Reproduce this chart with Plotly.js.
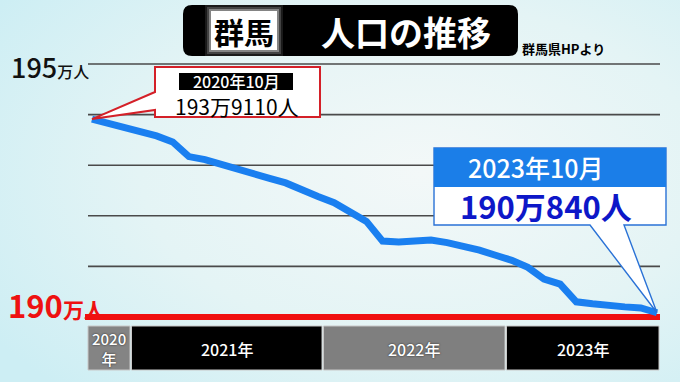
<!DOCTYPE html>
<html>
<head>
<meta charset="utf-8">
<script src="https://cdn.plot.ly/plotly-3.0.1.min.js"></script>
<style>
  html,body{margin:0;padding:0;}
  body{width:680px;height:382px;overflow:hidden;
    background: radial-gradient(ellipse 75% 80% at 62% 45%, #f3f8f8 0%, #e4f4f5 55%, #cdeef4 100%);}
  #chart{width:680px;height:382px;}
</style>
</head>
<body>
<div id="chart"></div>
<script>
// ---------------- data ----------------
const monthIndex = [0,1,2,3,4,5,6,7,8,9,10,11,12,13,14,15,16,17,18,19,20,21,22,23,24,25,26,27,28,29,30,31,32,33,34,35];
const population = [193.911,193.83,193.76,193.68,193.58,193.46,193.17,193.11,193.01,192.91,192.83,192.74,
  192.65,192.50,192.38,192.26,192.09,191.89,191.50,191.48,191.50,191.52,191.47,191.40,
  191.32,191.22,191.12,190.98,190.75,190.65,190.30,190.26,190.22,190.20,190.18,190.084];
const gridValues = [195,194,193,192,191];
const baseValue = 190;
const topTickLabel = ['195','万人'];
const baseTickLabel = ['190','万人'];
const yearLabels = ['2020<br>年','2021年','2022年','2023年'];
const titleRegion = '群馬';
const titleText = '人口の推移';
const sourceText = '群馬県HPより';
const startLabel = '2020年10月';
const startValueText = '193万9110人';
const endLabel = '2023年10月';
const endValueText = '190万840人';

// ---------------- layout helpers ----------------
const W = 680, H = 382;
const X0PX = 92, SPX = 16.143;      // pixel of first point, px per month
const BASEPX = 317, PXU = 50.6;     // pixel of 190, px per 万人
const xpx = i => X0PX + i * SPX;
const ypx = v => BASEPX - (v - baseValue) * PXU;
const xr = [-X0PX / SPX, (W - X0PX) / SPX];
const yr = [baseValue - (H - BASEPX) / PXU, baseValue + BASEPX / PXU];
const fx = x => x / W;
const fy = y => 1 - y / H;
const P = (x, y) => fx(x).toFixed(5) + ',' + fy(y).toFixed(5);
function rrect(x0, y0, x1, y1, r) {
  return `M${P(x0 + r, y0)} L${P(x1 - r, y0)} Q${P(x1, y0)} ${P(x1, y0 + r)} L${P(x1, y1 - r)} Q${P(x1, y1)} ${P(x1 - r, y1)} L${P(x0 + r, y1)} Q${P(x0, y1)} ${P(x0, y1 - r)} L${P(x0, y0 + r)} Q${P(x0, y0)} ${P(x0 + r, y0)} Z`;
}
const FONT = '"Noto Sans CJK JP", "Noto Sans", sans-serif';

const shapes = [];
const annotations = [];

// gridlines
gridValues.forEach(v => {
  shapes.push({type: 'line', xref: 'paper', yref: 'y', x0: fx(88), x1: fx(660), y0: v, y1: v,
    line: {color: '#4a4a4a', width: 1.6}, layer: 'below'});
});
// base red line
shapes.push({type: 'line', xref: 'paper', yref: 'y', x0: fx(85), x1: fx(660), y0: baseValue, y1: baseValue,
  line: {color: '#f01010', width: 6}, layer: 'below'});

// year bar
const yearPx = [[88, 130], [131.5, 322], [323.5, 505], [506.5, 659]];
const yearFill = ['#848484', '#000000', '#7f7f7f', '#000000'];
yearPx.forEach((b, k) => {
  shapes.push({type: 'rect', xref: 'paper', yref: 'paper', x0: fx(b[0]), x1: fx(b[1]), y0: fy(370), y1: fy(326),
    fillcolor: yearFill[k], line: {color: '#c8c8c8', width: 1}});
  annotations.push({xref: 'paper', yref: 'paper', x: fx((b[0] + b[1]) / 2), y: fy(k === 0 ? 348 : 349),
    text: yearLabels[k], showarrow: false, xanchor: 'center', yanchor: 'middle',
    font: {family: FONT, size: k === 0 ? 15 : 16, color: '#ffffff', weight: 500,
      shadow: yearFill[k] === '#000000' ? 'none' : '0px 0px 2px #222'}});
});

// title box
shapes.push({type: 'path', xref: 'paper', yref: 'paper', path: rrect(183, 5, 518, 56, 9), fillcolor: '#000', line: {width: 0}});
[[6, 0.10], [4, 0.18], [2, 0.35]].forEach(g => {
  shapes.push({type: 'rect', xref: 'paper', yref: 'paper', x0: fx(211 - g[0]), x1: fx(277 + g[0]), y0: fy(50 + g[0]), y1: fy(11 - g[0]),
    fillcolor: `rgba(255,255,255,${g[1]})`, line: {width: 0}});
});
shapes.push({type: 'rect', xref: 'paper', yref: 'paper', x0: fx(211), x1: fx(277), y0: fy(50), y1: fy(11),
  fillcolor: '#ffffff', line: {width: 0}});
annotations.push({xref: 'paper', yref: 'paper', x: fx(244), y: fy(31), text: titleRegion, showarrow: false,
  xanchor: 'center', yanchor: 'middle', font: {family: FONT, size: 30, color: '#000', weight: 'bold'}});
annotations.push({xref: 'paper', yref: 'paper', x: fx(406), y: fy(31), text: titleText, showarrow: false,
  xanchor: 'center', yanchor: 'middle', font: {family: FONT, size: 34, color: '#fff', weight: 'bold'}});
annotations.push({xref: 'paper', yref: 'paper', x: fx(520), y: fy(48), text: sourceText, showarrow: false,
  xanchor: 'left', yanchor: 'middle', font: {family: FONT, size: 13, color: '#000', weight: 'bold'}});

// axis value labels
annotations.push({xref: 'paper', yref: 'y', x: fx(9), y: gridValues[0], yshift: -2,
  text: topTickLabel[0] + '<span style="font-size:16px">' + topTickLabel[1] + '</span>', showarrow: false,
  xanchor: 'left', yanchor: 'middle', font: {family: FONT, size: 27, color: '#111', weight: 500}});
annotations.push({xref: 'paper', yref: 'y', x: fx(6), y: baseValue, yshift: 13,
  text: baseTickLabel[0] + '<span style="font-size:21px">' + baseTickLabel[1] + '</span>', showarrow: false,
  xanchor: 'left', yanchor: 'middle', font: {family: FONT, size: 31, color: '#ee1111', weight: 'bold'}});

// start callout (red)
const sx = xpx(monthIndex[0]), sy = ypx(population[0]);
shapes.push({type: 'path', xref: 'paper', yref: 'paper',
  path: `M${P(sx, sy)} L${P(155, 92)} L${P(155, 67)} L${P(320, 67)} L${P(320, 117)} L${P(155, 117)} L${P(155, 110)} Z`,
  fillcolor: '#ffffff', line: {color: '#d42028', width: 2}});
shapes.push({type: 'rect', xref: 'paper', yref: 'paper', x0: fx(179), x1: fx(293), y0: fy(90), y1: fy(73),
  fillcolor: '#000', line: {width: 0}});
annotations.push({xref: 'paper', yref: 'paper', x: fx(236), y: fy(81), text: startLabel, showarrow: false,
  xanchor: 'center', yanchor: 'middle', borderpad: 0, font: {family: FONT, size: 16, color: '#fff', weight: 500}});
annotations.push({xref: 'paper', yref: 'paper', x: fx(237), y: fy(106), text: startValueText, showarrow: false,
  xanchor: 'center', yanchor: 'middle', borderpad: 0, font: {family: FONT, size: 21, color: '#000'}});

// end callout (blue)
const ex = xpx(monthIndex[monthIndex.length - 1]), ey = ypx(population[population.length - 1]);
shapes.push({type: 'path', xref: 'paper', yref: 'paper',
  path: `M${P(434, 148)} L${P(666, 148)} L${P(666, 225)} L${P(624, 225)} L${P(ex, ey)} L${P(590, 225)} L${P(434, 225)} Z`,
  fillcolor: '#ffffff', line: {color: '#2a72d6', width: 1.4}});
shapes.push({type: 'rect', xref: 'paper', yref: 'paper', x0: fx(434), x1: fx(666), y0: fy(187), y1: fy(148),
  fillcolor: '#1b7ee8', line: {width: 0}});
annotations.push({xref: 'paper', yref: 'paper', x: fx(536), y: fy(167), text: endLabel, showarrow: false,
  xanchor: 'center', yanchor: 'middle', font: {family: FONT, size: 25, color: '#fff', weight: 500}});
annotations.push({xref: 'paper', yref: 'paper', x: fx(546), y: fy(206), text: endValueText, showarrow: false,
  xanchor: 'center', yanchor: 'middle', font: {family: FONT, size: 31, color: '#0d17c8', weight: 'bold'}});

const trace = {
  x: monthIndex, y: population, type: 'scatter', mode: 'lines',
  line: {color: '#1a7ff0', width: 7}, hoverinfo: 'skip'
};

const layout = {
  width: W, height: H,
  margin: {l: 0, r: 0, t: 0, b: 0, pad: 0},
  paper_bgcolor: 'rgba(0,0,0,0)', plot_bgcolor: 'rgba(0,0,0,0)',
  showlegend: false,
  xaxis: {range: xr, visible: false, fixedrange: true},
  yaxis: {range: yr, visible: false, fixedrange: true},
  shapes: shapes,
  annotations: annotations
};

Plotly.newPlot('chart', [trace], layout, {staticPlot: true, displayModeBar: false});
</script>
</body>
</html>
